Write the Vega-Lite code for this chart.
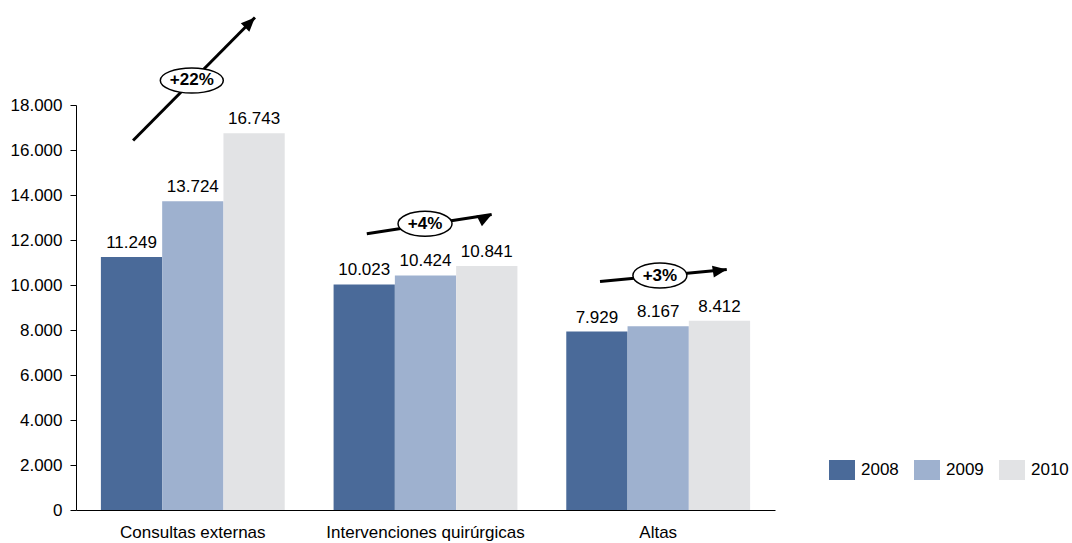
{
  "$schema": "https://vega.github.io/schema/vega-lite/v6.json",
  "autosize": {"type": "none"},
  "padding": {"left": 76, "top": 105, "right": 297, "bottom": 33},
  "width": 699,
  "height": 405,
  "background": "white",
  "config": {
    "view": {"stroke": null},
    "font": "Liberation Sans",
    "locale": {"number": {"decimal": ",", "thousands": ".", "grouping": [3], "currency": ["", " €"]}},
    "axis": {"labelColor": "black", "domainColor": "black", "tickColor": "black", "labelFont": "Liberation Sans", "grid": false}
  },
  "datasets": {
    "bars": [
      {"categoria": "Consultas externas", "anio": "2008", "valor": 11249},
      {"categoria": "Consultas externas", "anio": "2009", "valor": 13724},
      {"categoria": "Consultas externas", "anio": "2010", "valor": 16743},
      {"categoria": "Intervenciones quirúrgicas", "anio": "2008", "valor": 10023},
      {"categoria": "Intervenciones quirúrgicas", "anio": "2009", "valor": 10424},
      {"categoria": "Intervenciones quirúrgicas", "anio": "2010", "valor": 10841},
      {"categoria": "Altas", "anio": "2008", "valor": 7929},
      {"categoria": "Altas", "anio": "2009", "valor": 8167},
      {"categoria": "Altas", "anio": "2010", "valor": 8412}
    ],
    "arrows": [
      {"g": "a", "x1": 0.245, "y1": 16422, "x2": 0.768, "y2": 21889, "xm": 0.497, "ym": 19089, "label": "+22%"},
      {"g": "b", "x1": 1.248, "y1": 12276, "x2": 1.784, "y2": 13133, "xm": 1.498, "ym": 12720, "label": "+4%"},
      {"g": "c", "x1": 2.249, "y1": 10156, "x2": 2.793, "y2": 10689, "xm": 2.506, "ym": 10422, "label": "+3%"}
    ]
  },
  "layer": [
    {
      "data": {"name": "bars"},
      "encoding": {
        "x": {"field": "categoria", "type": "nominal", "sort": ["Consultas externas", "Intervenciones quirúrgicas", "Altas"],
              "scale": {"paddingInner": 0.21, "paddingOuter": 0.107},
              "axis": {"title": null, "ticks": false, "labelAngle": 0, "labelFontSize": 17, "labelPadding": 14, "labelLimit": 0, "domainWidth": 1}},
        "xOffset": {"field": "anio", "type": "nominal", "scale": {"paddingInner": 0, "paddingOuter": 0}},
        "y": {"field": "valor", "type": "quantitative", "scale": {"domain": [0, 18000], "nice": false},
              "axis": {"title": null, "values": [0, 2000, 4000, 6000, 8000, 10000, 12000, 14000, 16000, 18000], "format": ",d", "tickSize": 6, "labelFontSize": 17, "labelPadding": 8, "domainWidth": 1}}
      },
      "layer": [
        {
          "mark": {"type": "bar"},
          "encoding": {
            "color": {"field": "anio", "type": "nominal",
                      "scale": {"domain": ["2008", "2009", "2010"], "range": ["#4a6a99", "#9eb1cf", "#e2e3e5"]},
                      "legend": {"title": null, "orient": "none", "direction": "horizontal", "columns": 3, "legendX": 756, "legendY": 355,
                                 "symbolType": "M-1.3,-1H1.3V1H-1.3Z", "symbolSize": 400, "symbolStrokeWidth": 0, "symbolOpacity": 1,
                                 "labelFontSize": 17, "labelColor": "black", "labelOffset": 9, "columnPadding": 15}}
          }
        },
        {
          "mark": {"type": "text", "baseline": "bottom", "dy": -5, "fontSize": 17, "color": "black"},
          "encoding": {
            "text": {"field": "valor", "type": "quantitative", "format": ",d"}
          }
        }
      ]
    },
    {
      "data": {"name": "arrows"},
      "layer": [
        {
          "mark": {"type": "rule", "strokeWidth": 3, "color": "black"},
          "encoding": {
            "x": {"field": "x1", "type": "quantitative", "scale": {"domain": [0, 3], "nice": false, "zero": false}, "axis": null},
            "x2": {"field": "x2"},
            "y": {"field": "y1", "type": "quantitative"},
            "y2": {"field": "y2"}
          }
        },
        {
          "mark": {"type": "point", "filled": true, "color": "black", "opacity": 1, "size": 4},
          "encoding": {
            "x": {"field": "x2", "type": "quantitative"},
            "y": {"field": "y2", "type": "quantitative"},
            "shape": {"field": "g", "type": "nominal", "legend": null,
                      "scale": {"domain": ["a", "b", "c"], "range": ["M0,0L-14,-6L-14,6Z", "M0,0L-14,-6L-14,6Z", "M0,0L-14,-6L-14,6Z"]}},
            "angle": {"field": "g", "type": "nominal", "legend": null, "scale": {"domain": ["a", "b", "c"], "range": [314.8, 351.2, 354.6]}}
          }
        },
        {
          "mark": {"type": "point", "filled": true, "fill": "white", "stroke": "black", "strokeWidth": 1.5, "opacity": 1, "size": 4},
          "encoding": {
            "x": {"field": "xm", "type": "quantitative"},
            "y": {"field": "ym", "type": "quantitative"},
            "shape": {"field": "g", "type": "nominal", "legend": null,
                      "scale": {"domain": ["a", "b", "c"], "range": ["M-31.5,0A31.5,12.5 0 1,0 31.5,0A31.5,12.5 0 1,0 -31.5,0Z", "M-27,0A27,12.5 0 1,0 27,0A27,12.5 0 1,0 -27,0Z", "M-27,0A27,12.5 0 1,0 27,0A27,12.5 0 1,0 -27,0Z"]}}
          }
        },
        {
          "mark": {"type": "text", "fontSize": 17, "fontWeight": "bold", "color": "black", "baseline": "middle", "align": "center"},
          "encoding": {
            "x": {"field": "xm", "type": "quantitative"},
            "y": {"field": "ym", "type": "quantitative"},
            "text": {"field": "label", "type": "nominal"}
          }
        }
      ],
      "resolve": {"scale": {"shape": "independent"}}
    }
  ],
  "resolve": {"scale": {"x": "independent"}}
}
